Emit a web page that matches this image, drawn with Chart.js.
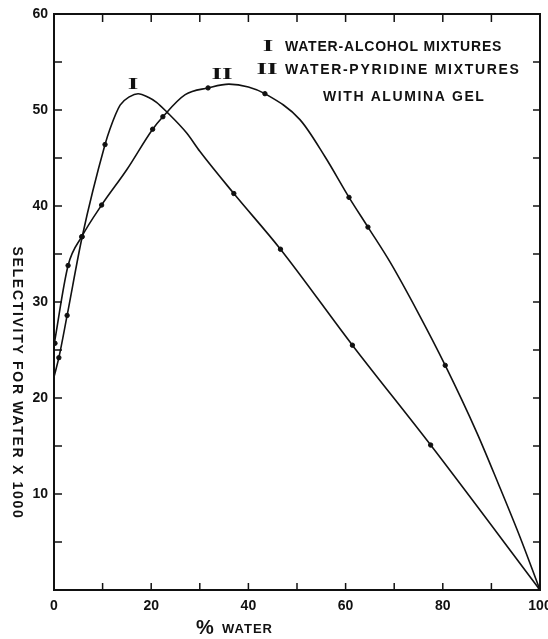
<!DOCTYPE html>
<html>
<head>
<meta charset="utf-8">
<title>Selectivity for water</title>
<script src="https://cdn.jsdelivr.net/npm/chart.js@4.4.0/dist/chart.umd.min.js"></script>
<style>
  html, body { margin: 0; padding: 0; background: #fff; }
  #wrap { width: 548px; height: 639px; }
</style>
</head>
<body>
<div id="wrap"><canvas id="chart"></canvas></div>
<script>
// curve I : water-alcohol mixtures (traced line + measured points)
const curve1X = [0, 1, 2.7, 5.8, 10.5, 11.5, 13.6, 15.6, 17.3, 19.5, 21.1, 23.2, 27.3, 30, 37, 46.6, 61.4, 77.5, 100];
const curve1Y = [22.2, 24.2, 28.6, 36.8, 46.4, 48.0, 50.5, 51.4, 51.7, 51.3, 50.8, 49.8, 47.6, 45.7, 41.3, 35.5, 25.5, 15.1, 0];
const marks1X = [1, 2.7, 5.8, 10.5, 37, 46.6, 61.4, 77.5, 100];
const marks1Y = [24.2, 28.6, 36.8, 46.4, 41.3, 35.5, 25.5, 15.1, 0];

// curve II : water-pyridine mixtures with alumina gel
const curve2X = [0, 2.9, 5.7, 9.8, 15, 20.3, 22.4, 27, 31.7, 36, 40, 43.4, 50.6, 55.8, 60.7, 64.6, 69.1, 74.9, 80.5, 87, 91.4, 95.9, 100];
const curve2Y = [25.5, 33.8, 36.8, 40.1, 43.8, 48.0, 49.3, 51.6, 52.3, 52.7, 52.4, 51.7, 49.0, 45.1, 40.9, 37.8, 34.2, 28.9, 23.4, 16.4, 11.1, 5.5, 0];
const marks2X = [0.2, 2.9, 5.7, 9.8, 20.3, 22.4, 31.7, 43.4, 60.7, 64.6, 80.5, 100];
const marks2Y = [25.7, 33.8, 36.8, 40.1, 48.0, 49.3, 52.3, 51.7, 40.9, 37.8, 23.4, 0];

// small inward tick marks
const xMinorTicks = [10, 20, 30, 40, 50, 60, 70, 80, 90];
const yMinorTicks = [5, 10, 15, 20, 25, 30, 35, 40, 45, 50, 55];

const legendLines = ["WATER-ALCOHOL MIXTURES", "WATER-PYRIDINE MIXTURES", "WITH ALUMINA GEL"];
const yTitle = "SELECTIVITY FOR WATER X 1000";
const xTitle = "WATER";

const ink = "#111";

function toPoints(xs, ys) {
  return xs.map((x, i) => ({ x: x, y: ys[i] }));
}

function line(ctx, x1, y1, x2, y2) {
  ctx.beginPath();
  ctx.moveTo(x1, y1);
  ctx.lineTo(x2, y2);
  ctx.stroke();
}

// roman numeral, stretched sideways like the hand lettering
function numeral(ctx, text, x, y) {
  ctx.save();
  ctx.translate(x, y);
  ctx.scale(1.7, 1);
  ctx.font = "bold 16px 'Liberation Serif'";
  ctx.textAlign = "center";
  ctx.textBaseline = "middle";
  ctx.fillText(text, 0, 0);
  ctx.restore();
}

const paperPlugin = {
  id: "paper",
  afterDraw(chart) {
    const ctx = chart.ctx;
    const a = chart.chartArea;
    const xs = chart.scales.x;
    const ys = chart.scales.y;
    ctx.save();
    ctx.strokeStyle = ink;
    ctx.fillStyle = ink;

    // frame
    ctx.lineWidth = 2;
    ctx.strokeRect(a.left, a.top, a.right - a.left, a.bottom - a.top);

    // ticks on all four sides, pointing inward
    ctx.lineWidth = 1.5;
    xMinorTicks.forEach(v => {
      let px = xs.getPixelForValue(v);
      line(ctx, px, a.bottom, px, a.bottom - 7);
      line(ctx, px, a.top, px, a.top + 8);
    });
    yMinorTicks.forEach(v => {
      let py = ys.getPixelForValue(v);
      line(ctx, a.left, py, a.left + 8, py);
      line(ctx, a.right, py, a.right - 7, py);
    });

    numeral(ctx, "I", 268, 47);
    numeral(ctx, "II", 267, 70);
    numeral(ctx, "I", 133, 85);
    numeral(ctx, "II", 222, 75);

    // legend text
    ctx.textBaseline = "middle";
    ctx.font = "bold 14px 'Liberation Sans'";
    ctx.textAlign = "left";
    ctx.letterSpacing = "0.8px";
    ctx.fillText(legendLines[0], 285, 47);
    ctx.letterSpacing = "1.7px";
    ctx.fillText(legendLines[1], 285, 70);
    ctx.letterSpacing = "1.6px";
    ctx.fillText(legendLines[2], 323, 97);

    // x title
    ctx.letterSpacing = "0px";
    ctx.textAlign = "center";
    ctx.font = "bold 20px 'Liberation Sans'";
    ctx.fillText("%", 205, 628);
    ctx.font = "bold 13px 'Liberation Sans'";
    ctx.textAlign = "left";
    ctx.letterSpacing = "1px";
    ctx.fillText(xTitle, 222, 629);

    // y title, reading top to bottom
    ctx.translate(17, 383);
    ctx.rotate(Math.PI / 2);
    ctx.font = "bold 14px 'Liberation Sans'";
    ctx.letterSpacing = "1.7px";
    ctx.textAlign = "center";
    ctx.fillText(yTitle, 0, 0);
    ctx.restore();
  }
};

const lineStyle = {
  borderColor: ink,
  borderWidth: 1.6,
  pointRadius: 0,
  showLine: true,
  cubicInterpolationMode: "monotone",
  fill: false
};
const dotStyle = {
  backgroundColor: ink,
  borderColor: ink,
  pointRadius: 2.2,
  showLine: false
};

const ctx = document.getElementById("chart").getContext("2d");
const chart = new Chart(ctx, {
  type: "scatter",
  data: {
    datasets: [
      Object.assign({ label: "I", data: toPoints(curve1X, curve1Y) }, lineStyle),
      Object.assign({ label: "I points", data: toPoints(marks1X, marks1Y) }, dotStyle),
      Object.assign({ label: "II", data: toPoints(curve2X, curve2Y) }, lineStyle),
      Object.assign({ label: "II points", data: toPoints(marks2X, marks2Y) }, dotStyle)
    ]
  },
  options: {
    responsive: true,
    maintainAspectRatio: false,
    animation: false,
    devicePixelRatio: 1,
    layout: { padding: { top: 14, right: 8, left: 0, bottom: 0 } },
    plugins: {
      legend: { display: false },
      tooltip: { enabled: false }
    },
    scales: {
      x: {
        type: "linear",
        min: 0,
        max: 100,
        grid: { display: false, drawTicks: false },
        border: { display: false },
        ticks: {
          stepSize: 20,
          padding: 8,
          color: ink,
          font: { family: "Liberation Sans", size: 14, weight: "bold" }
        },
        afterFit: s => { s.height = 49; s.paddingLeft = 0; s.paddingRight = 0; }
      },
      y: {
        min: 0,
        max: 60,
        grid: { display: false, drawTicks: false },
        border: { display: false },
        ticks: {
          stepSize: 10,
          padding: 6,
          color: ink,
          font: { family: "Liberation Sans", size: 14, weight: "bold" },
          callback: v => (v === 0 ? "" : v)
        },
        afterFit: s => { s.width = 54; s.paddingTop = 0; s.paddingBottom = 0; }
      }
    }
  },
  plugins: [paperPlugin]
});
</script>
</body>
</html>
